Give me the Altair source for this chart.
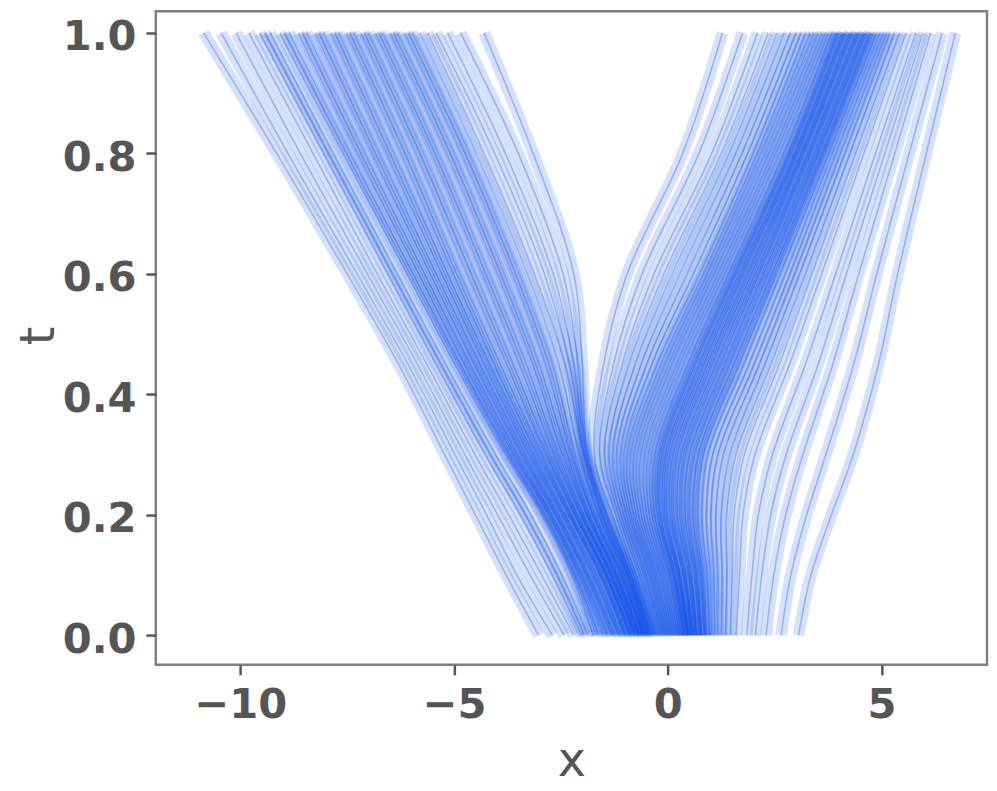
import altair as alt
import pandas as pd

# time knots (t) at which each trajectory's x position was read
T_KNOTS = [0.0, 0.1, 0.2, 0.3, 0.45, 0.6, 0.8, 1.0]

# trajectories that end in the left mode (x at each knot)
LEFT_PATHS = [
    [-3.02, -3.78, -4.5, -5.22, -6.3, -7.5, -9.15, -10.86],
    [-2.7, -3.53, -4.24, -4.98, -6.08, -7.27, -8.89, -10.45],
    [-2.42, -3.22, -3.98, -4.75, -5.86, -7.03, -8.6, -10.1],
    [-2.2, -2.95, -3.72, -4.51, -5.64, -6.8, -8.3, -9.8],
    [-2.02, -2.7, -3.45, -4.27, -5.42, -6.55, -8.05, -9.55],
    [-1.95, -2.59, -3.33, -4.15, -5.31, -6.44, -7.94, -9.43],
    [-1.87, -2.48, -3.2, -4.03, -5.2, -6.33, -7.83, -9.3],
    [-1.74, -2.25, -2.95, -3.8, -4.98, -6.1, -7.6, -9.08],
    [-1.68, -2.21, -2.91, -3.76, -4.92, -6.03, -7.52, -8.97],
    [-1.62, -2.17, -2.87, -3.71, -4.86, -5.96, -7.43, -8.86],
    [-1.51, -2.08, -2.79, -3.61, -4.75, -5.83, -7.26, -8.65],
    [-1.46, -2.04, -2.75, -3.57, -4.69, -5.76, -7.18, -8.55],
    [-1.41, -2.0, -2.71, -3.52, -4.63, -5.69, -7.09, -8.45],
    [-1.32, -1.92, -2.64, -3.42, -4.52, -5.56, -6.92, -8.25],
    [-1.28, -1.88, -2.6, -3.38, -4.46, -5.49, -6.84, -8.16],
    [-1.24, -1.84, -2.56, -3.33, -4.4, -5.42, -6.75, -8.06],
    [-1.16, -1.76, -2.48, -3.24, -4.29, -5.29, -6.58, -7.88],
    [-1.13, -1.72, -2.44, -3.19, -4.23, -5.22, -6.5, -7.79],
    [-1.09, -1.67, -2.4, -3.14, -4.17, -5.15, -6.41, -7.7],
    [-1.02, -1.59, -2.32, -3.05, -4.06, -5.02, -6.24, -7.52],
    [-0.99, -1.56, -2.29, -3.0, -3.99, -4.94, -6.15, -7.44],
    [-0.96, -1.52, -2.25, -2.95, -3.92, -4.86, -6.06, -7.35],
    [-0.9, -1.46, -2.18, -2.85, -3.77, -4.69, -5.89, -7.18],
    [-0.87, -1.44, -2.15, -2.81, -3.7, -4.6, -5.8, -7.1],
    [-0.84, -1.41, -2.11, -2.76, -3.62, -4.51, -5.71, -7.01],
    [-0.79, -1.35, -2.04, -2.66, -3.47, -4.34, -5.53, -6.84],
    [-0.77, -1.32, -2.01, -2.61, -3.39, -4.26, -5.45, -6.76],
    [-0.74, -1.29, -1.97, -2.56, -3.31, -4.17, -5.36, -6.67],
    [-0.69, -1.24, -1.9, -2.46, -3.16, -3.99, -5.18, -6.5],
    [-0.67, -1.21, -1.87, -2.41, -3.09, -3.91, -5.09, -6.42],
    [-0.64, -1.18, -1.83, -2.36, -3.01, -3.82, -5.0, -6.33],
    [-0.6, -1.12, -1.76, -2.26, -2.86, -3.64, -4.83, -6.16],
    [-0.58, -1.09, -1.73, -2.22, -2.78, -3.56, -4.74, -6.07],
    [-0.56, -1.06, -1.69, -2.17, -2.7, -3.47, -4.65, -5.98],
    [-0.52, -1.01, -1.62, -2.07, -2.55, -3.29, -4.48, -5.8],
    [-0.48, -0.95, -1.55, -1.97, -2.4, -3.12, -4.3, -5.62],
    [-0.45, -0.93, -1.52, -1.95, -2.3, -2.89, -4.05, -5.42],
    [-0.42, -0.9, -1.48, -1.92, -2.2, -2.68, -3.8, -5.15],
    [-0.4, -0.87, -1.45, -1.9, -2.1, -2.45, -3.5, -4.85],
    [-0.38, -0.85, -1.42, -1.88, -2.0, -2.2, -3.15, -4.3],
]

# trajectories that end in the right mode (x at each knot)
RIGHT_PATHS = [
    [-0.33, -0.8, -1.3, -1.72, -1.5, -0.95, 0.35, 1.28],
    [-0.287, -0.74, -1.22, -1.59, -1.27, -0.6, 0.73, 1.75],
    [-0.245, -0.67, -1.15, -1.48, -1.07, -0.32, 1.03, 2.1],
    [-0.204, -0.62, -1.09, -1.38, -0.91, -0.09, 1.25, 2.35],
    [-0.164, -0.56, -1.03, -1.29, -0.76, 0.1, 1.43, 2.55],
    [-0.124, -0.51, -0.97, -1.2, -0.62, 0.28, 1.59, 2.72],
    [-0.083, -0.45, -0.91, -1.11, -0.49, 0.45, 1.74, 2.87],
    [-0.045, -0.4, -0.86, -1.03, -0.37, 0.6, 1.87, 3.0],
    [-0.005, -0.35, -0.8, -0.95, -0.25, 0.75, 2.0, 3.12],
    [0.035, -0.3, -0.74, -0.87, -0.16, 0.83, 2.09, 3.23],
    [0.075, -0.25, -0.68, -0.79, -0.07, 0.92, 2.18, 3.33],
    [0.116, -0.19, -0.62, -0.71, 0.02, 1.0, 2.27, 3.42],
    [0.156, -0.14, -0.56, -0.63, 0.1, 1.08, 2.36, 3.51],
    [0.197, -0.09, -0.49, -0.54, 0.2, 1.17, 2.45, 3.6],
    [0.238, -0.04, -0.43, -0.46, 0.28, 1.25, 2.53, 3.68],
    [0.279, 0.02, -0.37, -0.38, 0.37, 1.33, 2.62, 3.76],
    [0.321, 0.07, -0.31, -0.3, 0.46, 1.42, 2.71, 3.84],
    [0.364, 0.12, -0.25, -0.22, 0.55, 1.5, 2.8, 3.92],
    [0.39, 0.15, -0.21, -0.18, 0.6, 1.55, 2.84, 3.96],
    [0.41, 0.18, -0.17, -0.13, 0.64, 1.59, 2.88, 4.0],
    [0.45, 0.23, -0.1, -0.05, 0.74, 1.68, 2.96, 4.08],
    [0.47, 0.26, -0.06, -0.01, 0.79, 1.73, 3.0, 4.12],
    [0.49, 0.29, -0.02, 0.04, 0.84, 1.77, 3.04, 4.16],
    [0.54, 0.36, 0.06, 0.13, 0.93, 1.86, 3.11, 4.24],
    [0.57, 0.39, 0.1, 0.18, 0.98, 1.91, 3.15, 4.28],
    [0.59, 0.42, 0.14, 0.22, 1.03, 1.96, 3.19, 4.32],
    [0.63, 0.48, 0.23, 0.32, 1.13, 2.05, 3.27, 4.4],
    [0.66, 0.52, 0.28, 0.37, 1.18, 2.1, 3.31, 4.44],
    [0.68, 0.55, 0.32, 0.41, 1.23, 2.14, 3.35, 4.48],
    [0.74, 0.62, 0.41, 0.51, 1.34, 2.24, 3.43, 4.56],
    [0.77, 0.66, 0.46, 0.57, 1.39, 2.29, 3.48, 4.6],
    [0.79, 0.69, 0.5, 0.62, 1.44, 2.34, 3.52, 4.64],
    [0.85, 0.76, 0.6, 0.72, 1.55, 2.44, 3.6, 4.72],
    [0.88, 0.8, 0.65, 0.78, 1.61, 2.49, 3.64, 4.76],
    [0.9, 0.84, 0.7, 0.83, 1.67, 2.54, 3.68, 4.8],
    [0.97, 0.92, 0.8, 0.94, 1.78, 2.64, 3.77, 4.88],
    [1.03, 1.0, 0.9, 1.05, 1.9, 2.75, 3.85, 4.96],
    [1.10, 1.08, 1.01, 1.17, 2.02, 2.86, 3.94, 5.04],
    [1.175, 1.17, 1.12, 1.30, 2.14, 2.97, 4.04, 5.12],
    [1.26, 1.27, 1.25, 1.45, 2.27, 3.08, 4.14, 5.2],
    [1.35, 1.38, 1.38, 1.60, 2.42, 3.22, 4.26, 5.3],
    [1.46, 1.51, 1.55, 1.79, 2.61, 3.38, 4.4, 5.42],
    [1.6, 1.68, 1.76, 2.04, 2.85, 3.6, 4.59, 5.58],
    [1.85, 1.97, 2.12, 2.45, 3.22, 3.93, 4.86, 5.8],
    [2.05, 2.2, 2.41, 2.77, 3.52, 4.18, 5.08, 5.97],
    [2.3, 2.48, 2.76, 3.16, 3.86, 4.47, 5.31, 6.15],
    [2.65, 2.88, 3.25, 3.7, 4.35, 4.89, 5.65, 6.42],
    [3.06, 3.35, 3.83, 4.34, 4.93, 5.38, 6.05, 6.73],
]

X_TICKS = [-10, -5, 0, 5]
Y_TICKS = [0.0, 0.2, 0.4, 0.6, 0.8, 1.0]

rows = []
for group, paths in (("left", LEFT_PATHS), ("right", RIGHT_PATHS)):
    for k, xs in enumerate(paths):
        for t, x in zip(T_KNOTS, xs):
            rows.append({"path": f"{group}{k}", "x": x, "t": t})
df = pd.DataFrame(rows)

GRAY = "#555555"
BLUE = "#0046e8"

x_enc = alt.X(
    "x:Q",
    scale=alt.Scale(domain=[-11.98, 7.47], nice=False, zero=False),
    axis=alt.Axis(values=X_TICKS, format="d", title="x",
                  titleBaseline="alphabetic", titleY=112),
)
y_enc = alt.Y(
    "t:Q",
    scale=alt.Scale(domain=[-0.049, 1.036], nice=False, zero=False),
    axis=alt.Axis(values=Y_TICKS, format=".1f", title="t",
                  titleBaseline="alphabetic", titleX=-103, titleY=327,
                  labelBaseline="middle", labelOffset=4),
)

base = alt.Chart(df).encode(x=x_enc, y=y_enc, detail="path:N", order="t:Q")

halo = base.mark_line(interpolate="catmull-rom", color=BLUE, opacity=0.16, strokeWidth=12)
thin = base.mark_line(interpolate="catmull-rom", color=BLUE, opacity=0.3, strokeWidth=1.6)

chart = (
    alt.layer(halo, thin)
    .properties(
        width=838,
        height=659,
        autosize=alt.AutoSizeParams(type="none"),
        padding={"left": 149, "top": 0, "right": 2, "bottom": 128},
    )
    .configure_view(stroke="#808080", strokeWidth=2.5)
    .configure_axis(
        domain=False,
        grid=False,
        ticks=True,
        tickColor=GRAY,
        tickWidth=2.5,
        tickSize=10,
        labelFont="DejaVu Sans",
        labelFontWeight="bold",
        labelFontSize=42,
        labelColor=GRAY,
        labelPadding=10,
        titleFont="DejaVu Sans",
        titleFontWeight="normal",
        titleFontSize=48,
        titleColor=GRAY,
    )
)

chart.save("out.html", embed_options={"renderer": "svg", "actions": False})
